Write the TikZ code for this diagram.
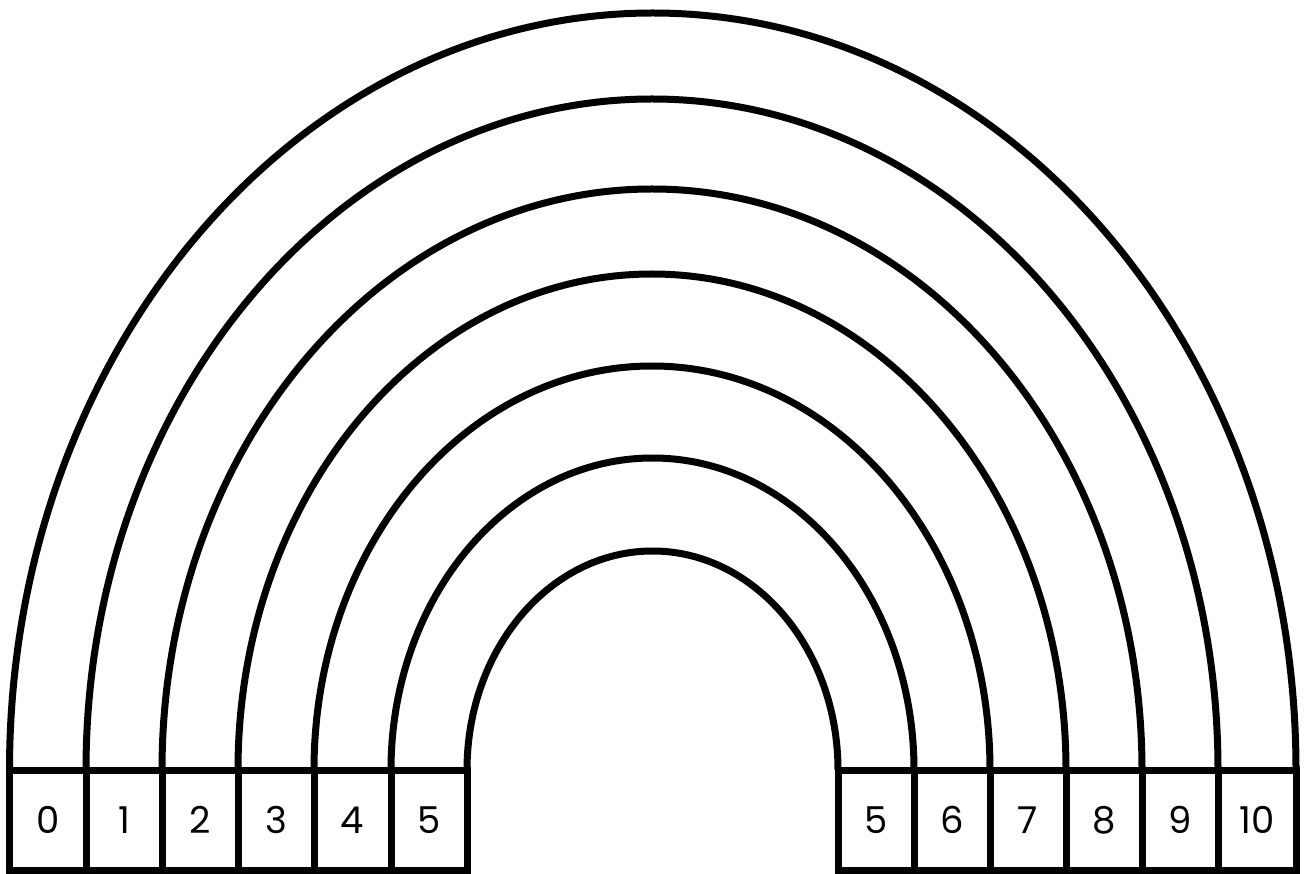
\documentclass[tikz,border=0pt]{standalone}
\usepackage{fontspec}
\setmainfont{Poppins}
\usetikzlibrary{calc}
\begin{document}
\begin{tikzpicture}[x=1pt,y=-1pt,
  cell/.style={draw=black, line width=7pt, rectangle, inner sep=0pt, outer sep=0pt,
    minimum height=100.5pt, font=\fontsize{37}{37}\selectfont},
  band/.style={draw=black, line width=7pt}]
\useasboundingbox (0,0) rectangle (1307,874);
% left boxes
\foreach \a/\b/\t in {9.5/86/0, 86/162/1, 162/238/2, 238/314/3, 314/391/4, 391/467/5}{
  \pgfmathsetmacro{\w}{\b-\a}
  \pgfmathsetmacro{\c}{(\a+\b)/2}
  \node[cell, minimum width=\w pt] (l\t) at (\c,820.25) {\t};
}
% right boxes
\foreach \a/\b/\t in {838/914/5, 914/990/6, 990/1066/7, 1066/1142/8, 1142/1218/9, 1218/1296/10}{
  \pgfmathsetmacro{\w}{\b-\a}
  \pgfmathsetmacro{\c}{(\a+\b)/2}
  \node[cell, minimum width=\w pt] (r\t) at (\c,820.25) {\t};
}
% arcs
\foreach \s/\e/\h in {l0.north west/r10.north east/757, l1.north west/r9.north east/671,
  l2.north west/r8.north east/581, l3.north west/r7.north east/496,
  l4.north west/r6.north east/404, l5.north west/r5.north east/312,
  l5.north east/r5.north west/219}{
  \draw[band] let \p1=(\s), \p2=(\e) in
    (\p1) arc[start angle=180, end angle=0, x radius={(\x2-\x1)/2}, y radius=\h pt];
}
\end{tikzpicture}
\end{document}
